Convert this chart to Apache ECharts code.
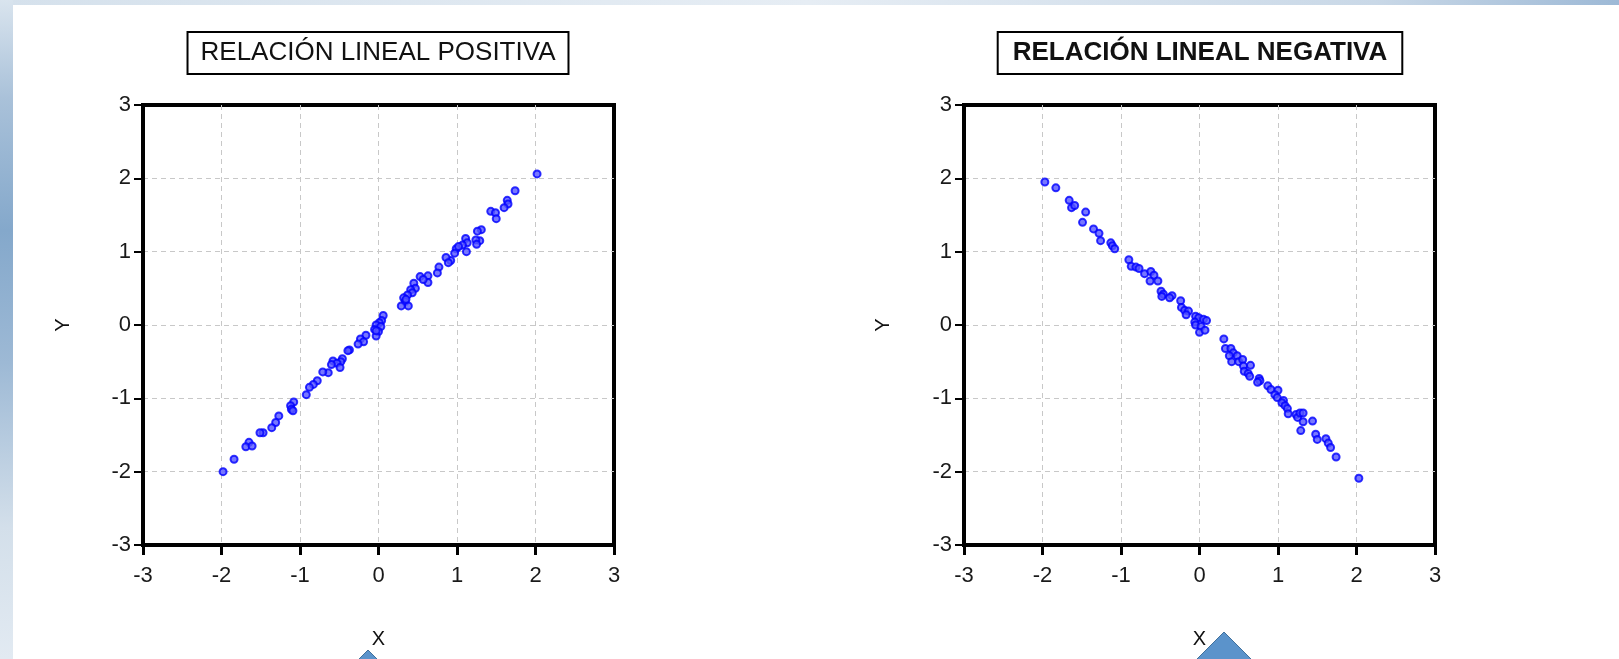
<!DOCTYPE html>
<html>
<head>
<meta charset="utf-8">
<script src="https://cdn.jsdelivr.net/npm/echarts@6/dist/echarts.min.js"></script>
<style>
  html, body { margin: 0; padding: 0; background: #fff; }
  #main { width: 1619px; height: 659px; }
</style>
</head>
<body>
<div id="main"></div>
<script>
var axisTicks = [-3, -2, -1, 0, 1, 2, 3];

var titles = ['RELACIÓN LINEAL POSITIVA', 'RELACIÓN LINEAL NEGATIVA'];

var positivePoints = [
  [2.02, 2.06], [1.74, 1.83], [1.64, 1.70], [1.65, 1.65], [1.60, 1.60],
  [1.43, 1.55], [1.49, 1.53], [1.50, 1.45], [1.31, 1.30], [1.26, 1.28],
  [1.29, 1.15], [1.24, 1.16], [1.25, 1.10], [1.11, 1.18], [1.13, 1.12],
  [1.07, 1.09], [1.12, 1.00], [0.99, 1.04], [0.97, 0.98], [1.02, 1.07],
  [0.92, 0.88], [0.86, 0.92], [0.89, 0.85], [0.77, 0.79], [0.75, 0.71],
  [0.63, 0.67], [0.53, 0.66], [0.63, 0.58], [0.57, 0.62], [0.45, 0.57],
  [0.47, 0.50], [0.41, 0.48], [0.43, 0.44], [0.37, 0.41], [0.32, 0.37],
  [0.34, 0.32], [0.38, 0.26], [0.29, 0.26], [0.35, 0.35], [0.06, 0.13],
  [0.04, 0.06], [0.01, 0.03], [-0.03, 0.00], [0.03, -0.02], [-0.05, -0.06],
  [0.00, -0.09], [-0.03, -0.15], [-0.03, -0.08], [-0.16, -0.14], [-0.23, -0.19],
  [-0.19, -0.23], [-0.26, -0.26], [-0.37, -0.34], [-0.39, -0.35], [-0.46, -0.46],
  [-0.48, -0.50], [-0.58, -0.49], [-0.53, -0.52], [-0.60, -0.54], [-0.49, -0.58],
  [-0.64, -0.65], [-0.71, -0.64], [-0.78, -0.76], [-0.83, -0.81], [-0.88, -0.85],
  [-0.92, -0.95], [-1.08, -1.05], [-1.12, -1.10], [-1.11, -1.15], [-1.09, -1.17],
  [-1.27, -1.24], [-1.31, -1.33], [-1.36, -1.40], [-1.47, -1.47], [-1.51, -1.47],
  [-1.65, -1.60], [-1.69, -1.66], [-1.61, -1.65], [-1.84, -1.83], [-1.98, -2.00]
];

var negativePoints = [
  [-1.97, 1.95], [-1.83, 1.87], [-1.66, 1.70], [-1.63, 1.60], [-1.59, 1.63],
  [-1.45, 1.54], [-1.49, 1.40], [-1.35, 1.31], [-1.28, 1.25], [-1.26, 1.15],
  [-1.13, 1.12], [-1.11, 1.08], [-1.08, 1.04], [-0.90, 0.89], [-0.87, 0.80],
  [-0.81, 0.79], [-0.77, 0.77], [-0.70, 0.70], [-0.62, 0.73], [-0.58, 0.68],
  [-0.63, 0.60], [-0.53, 0.60], [-0.49, 0.46], [-0.46, 0.42], [-0.48, 0.39],
  [-0.35, 0.40], [-0.38, 0.37], [-0.24, 0.33], [-0.23, 0.24], [-0.19, 0.20],
  [-0.14, 0.19], [-0.17, 0.14], [-0.05, 0.12], [-0.01, 0.10], [-0.06, 0.04],
  [0.05, 0.08], [0.09, 0.06], [-0.05, 0.00], [0.02, -0.02], [0.00, -0.10],
  [0.07, -0.07], [0.31, -0.19], [0.33, -0.32], [0.40, -0.32], [0.43, -0.38],
  [0.38, -0.42], [0.48, -0.42], [0.41, -0.50], [0.50, -0.50], [0.55, -0.47],
  [0.56, -0.56], [0.65, -0.55], [0.57, -0.63], [0.62, -0.66], [0.64, -0.70],
  [0.76, -0.73], [0.77, -0.76], [0.74, -0.78], [0.87, -0.83], [0.91, -0.88],
  [1.00, -0.89], [0.96, -0.95], [0.99, -0.99], [1.07, -1.03], [1.05, -1.06],
  [1.09, -1.10], [1.12, -1.14], [1.13, -1.21], [1.23, -1.22], [1.25, -1.26],
  [1.28, -1.20], [1.32, -1.20], [1.32, -1.32], [1.29, -1.44], [1.44, -1.31],
  [1.48, -1.49], [1.50, -1.56], [1.61, -1.55], [1.64, -1.61], [1.67, -1.67],
  [1.74, -1.80], [2.03, -2.09]
];

var myChart = echarts.init(document.getElementById('main'));

var tickFont = { fontFamily: 'Liberation Sans, Arial', fontSize: 22, color: '#1a1a1a' };
var nameFont = { fontFamily: 'Liberation Sans, Arial', fontSize: 20, color: '#111' };
var gridLine = { show: true, showMinLine: false, showMaxLine: false,
  lineStyle: { color: '#c8c8c8', type: [5, 4], width: 1 } };

function makeX(i) {
  return {
    type: 'value', gridIndex: i, position: 'bottom',
    min: axisTicks[0], max: axisTicks[axisTicks.length - 1], interval: axisTicks[1] - axisTicks[0],
    name: 'X', nameLocation: 'middle', nameGap: 84, nameTextStyle: nameFont,
    axisLine: { show: true, onZero: false, lineStyle: { color: '#000', width: 4 } },
    axisTick: { show: true, inside: false, length: 10, lineStyle: { color: '#000', width: 3 } },
    axisLabel: Object.assign({ margin: 20 }, tickFont),
    splitLine: gridLine
  };
}

function makeY(i, gap) {
  return {
    type: 'value', gridIndex: i, position: 'left',
    min: axisTicks[0], max: axisTicks[axisTicks.length - 1], interval: axisTicks[1] - axisTicks[0],
    name: 'Y', nameLocation: 'middle', nameGap: gap, nameTextStyle: nameFont,
    axisLine: { show: true, onZero: false, lineStyle: { color: '#000', width: 4 } },
    axisTick: { show: true, inside: false, length: 9, lineStyle: { color: '#000', width: 2 } },
    axisLabel: Object.assign({ margin: 12 }, tickFont),
    splitLine: gridLine
  };
}

var pointStyle = { color: '#5555ff', borderColor: '#0000ff', borderWidth: 2 };

myChart.setOption({
  backgroundColor: '#fff',
  animation: false,
  grid: [
    { left: 143, top: 105, width: 471, height: 440, show: true, borderColor: '#000', borderWidth: 4, backgroundColor: 'transparent' },
    { left: 964, top: 105, width: 471, height: 440, show: true, borderColor: '#000', borderWidth: 4, backgroundColor: 'transparent' }
  ],
  xAxis: [makeX(0), makeX(1)],
  yAxis: [makeY(0, 70), makeY(1, 71)],
  series: [
    { type: 'scatter', xAxisIndex: 0, yAxisIndex: 0, data: positivePoints, z: 3,
      symbolSize: 7, itemStyle: pointStyle },
    { type: 'scatter', xAxisIndex: 1, yAxisIndex: 1, data: negativePoints, z: 3,
      symbolSize: 7, itemStyle: pointStyle }
  ],
  graphic: [
    // fondo de la diapositiva
    { type: 'rect', shape: { x: 0, y: 0, width: 1619, height: 5 }, z: -10,
      style: { fill: new echarts.graphic.LinearGradient(0, 0, 1, 0, [
        { offset: 0, color: '#d5e1ec' }, { offset: 0.5, color: '#e6edf4' },
        { offset: 0.85, color: '#c9d8e7' }, { offset: 1, color: '#9db9d6' }]) } },
    { type: 'rect', shape: { x: 0, y: 0, width: 13, height: 659 }, z: -10,
      style: { fill: new echarts.graphic.LinearGradient(0, 0, 0, 1, [
        { offset: 0, color: '#d9e4ee' }, { offset: 0.15, color: '#a9c1d9' },
        { offset: 0.35, color: '#84a8cb' }, { offset: 0.55, color: '#9db9d5' },
        { offset: 0.8, color: '#d3dfea' }, { offset: 1, color: '#e2eaf2' }]) } },
    // titulos
    { type: 'text', x: 378, y: 33, z: 10,
      style: { text: titles[0], align: 'center', verticalAlign: 'top',
        fontFamily: 'Liberation Sans, Arial', fontSize: 26, fill: '#111',
        backgroundColor: '#fff', borderColor: '#000', borderWidth: 2, padding: [7, 12] } },
    { type: 'text', x: 1200, y: 33, z: 10,
      style: { text: titles[1], align: 'center', verticalAlign: 'top',
        fontFamily: 'Liberation Sans, Arial', fontSize: 26, fontWeight: 'bold', fill: '#111',
        backgroundColor: '#fff', borderColor: '#000', borderWidth: 2, padding: [7, 14] } },
    // flechas recortadas abajo
    { type: 'polygon', z: 5, shape: { points: [[368, 650], [380, 662], [356, 662]] },
      style: { fill: '#5b93cb', stroke: '#41719c', lineWidth: 1 } },
    { type: 'polygon', z: 5, shape: { points: [[1224, 632], [1254, 662], [1194, 662]] },
      style: { fill: '#5b93cb', stroke: '#41719c', lineWidth: 1 } }
  ]
});
</script>
</body>
</html>
